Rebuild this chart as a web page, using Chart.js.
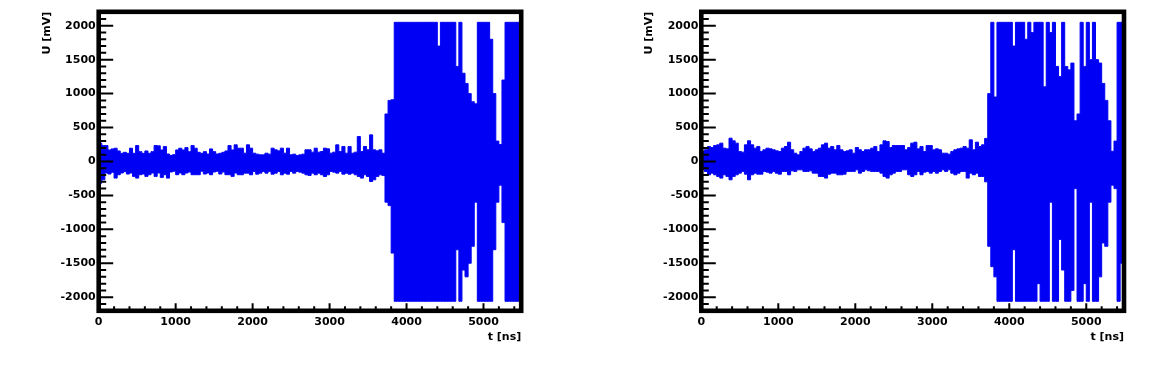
<!DOCTYPE html>
<html>
<head>
<meta charset="utf-8">
<script src="https://cdn.jsdelivr.net/npm/chart.js@4/dist/chart.umd.min.js"></script>
<style>
  html, body { margin: 0; padding: 0; background: #fff; }
  #wrap { position: relative; width: 1153px; height: 385px; }
  canvas { position: absolute; top: 0; }
</style>
</head>
<body>
<div id="wrap">
  <canvas id="left" width="576" height="385" style="left:0"></canvas>
  <canvas id="right" width="577" height="385" style="left:576px"></canvas>
</div>
<script>
// Waveforms: per 40 ns bin, highest and lowest sample (mV)
const binWidth = 40;   // ns
const xTicks = [0, 1000, 2000, 3000, 4000, 5000];
const yTicks = [-2000, -1500, -1000, -500, 0, 500, 1000, 1500, 2000];
const xTitle = 't [ns]';
const yTitle = 'U [mV]';

const leftHi = [
  270,235,235,170,185,195,155,120,135,120, 195,120,235,145,120,155,120,145,235,230,
  170,220,110,90,100,170,195,170,205,145, 235,195,135,120,145,110,185,145,110,120,
  135,155,235,170,245,195,196,122,245,196, 122,108,98,98,122,108,196,172,157,196,
  122,196,98,108,88,98,108,172,172,137, 196,137,147,196,186,122,137,245,147,221,
  122,221,122,137,368,147,221,172,392,172, 157,172,122,700,900,910,2050,2050,2050,2050,
  2050,2050,2050,2050,2050,2050,2050,2050,2050,2050, 1700,2050,2050,2050,2050,2050,1400,2050,1300,1150,
  1000,880,850,2050,2050,2050,2050,1800,1000,300, 250,1200,2050,2050,2050,2050,2050,2050
];
const leftLo = [
  -320,-270,-170,-185,-160,-245,-195,-170,-150,-185, -170,-220,-245,-195,-185,-220,-195,-170,-220,-170,
  -235,-195,-245,-155,-145,-195,-170,-195,-170,-155, -195,-195,-195,-145,-185,-170,-195,-155,-145,-185,
  -155,-195,-195,-220,-170,-195,-196,-172,-172,-196, -147,-187,-172,-147,-172,-147,-187,-172,-147,-196,
  -172,-187,-147,-172,-147,-157,-172,-196,-206,-172, -196,-172,-196,-221,-196,-147,-157,-172,-147,-187,
  -172,-187,-172,-196,-221,-245,-196,-221,-295,-270, -221,-196,-206,-600,-650,-1350,-2060,-2060,-2060,-2060,
  -2060,-2060,-2060,-2060,-2060,-2060,-2060,-2060,-2060,-2060, -2060,-2060,-2060,-2060,-2060,-2060,-1300,-2060,-1600,-1700,
  -1500,-1250,-600,-2060,-2060,-2060,-2060,-2060,-1300,-600, -350,-900,-2060,-2060,-2060,-2060,-2060,-2060
];
const rightHi = [
  150,172,221,206,235,245,270,196,186,343, 304,270,147,137,245,304,245,196,221,147,
  172,196,186,172,157,147,196,221,284,172, 122,98,147,196,221,186,147,172,196,245,
  270,196,221,172,235,172,147,157,172,122, 206,172,147,172,172,196,221,147,245,304,
  294,206,235,235,235,235,172,206,270,284, 186,221,147,235,235,172,186,172,122,122,
  108,147,172,186,196,221,196,319,172,284, 221,245,340,1000,2050,950,2050,2050,2050,2050,
  2050,1700,2050,2050,2050,1800,2050,1900,2050,2050, 2050,1100,2050,1900,2050,1400,1250,2050,1400,1350,
  1450,600,700,2050,1400,2050,1500,2050,1500,1450, 1150,900,600,150,300,2050,2050,2050
];
const rightLo = [
  -120,-147,-196,-172,-196,-221,-245,-196,-221,-270, -221,-196,-172,-147,-187,-270,-196,-172,-187,-187,
  -147,-157,-172,-147,-172,-187,-147,-147,-196,-138, -147,-123,-123,-147,-147,-138,-172,-172,-221,-221,
  -245,-187,-172,-172,-196,-196,-187,-147,-147,-147, -123,-172,-147,-123,-138,-147,-147,-147,-172,-221,
  -245,-196,-172,-147,-147,-123,-123,-196,-221,-196, -147,-196,-157,-147,-172,-147,-172,-147,-123,-147,
  -123,-172,-196,-172,-147,-147,-245,-172,-196,-172, -221,-221,-300,-1250,-1550,-1700,-2060,-2060,-2060,-2060,
  -2060,-1300,-2060,-2060,-2060,-2060,-2060,-2060,-2060,-1800, -2060,-2060,-2060,-600,-2060,-2060,-1150,-1600,-2060,-2060,
  -1900,-400,-2060,-2060,-1800,-2060,-600,-2060,-2060,-1700, -1200,-1250,-600,-350,-400,-2060,-1500,-2060
];

const FONT = 'DejaVu Sans';
const BLUE = '#0000f5';

// ROOT-like frame: thick box, ticks inside, axis titles at the ends
const rootFrame = {
  id: 'rootFrame',
  afterDraw(chart) {
    const {ctx, chartArea: a, scales: {x, y}} = chart;
    ctx.save();
    ctx.strokeStyle = '#000';
    ctx.lineWidth = 2;
    ctx.beginPath();
    for (let t = 0; t <= x.max; t += 200) {
      const px = x.getPixelForValue(t);
      const len = t % 1000 === 0 ? 7.5 : 4.5;
      ctx.moveTo(px, a.bottom);
      ctx.lineTo(px, a.bottom - len);
    }
    for (let v = -2200; v <= y.max; v += 100) {
      const py = y.getPixelForValue(v);
      const len = v % 500 === 0 ? 14.5 : 7.5;
      ctx.moveTo(a.left, py);
      ctx.lineTo(a.left + len, py);
    }
    ctx.stroke();
    ctx.lineWidth = 4.6;
    ctx.strokeRect(a.left, a.top, a.right - a.left, a.bottom - a.top);

    ctx.fillStyle = '#000';
    ctx.font = 'bold 11px "' + FONT + '"';
    ctx.textAlign = 'right';
    ctx.textBaseline = 'middle';
    ctx.fillText(xTitle, a.right, 337.5);
    ctx.translate(a.left - 52, a.top);
    ctx.rotate(-Math.PI / 2);
    ctx.fillText(yTitle, 0, 0);
    ctx.restore();
  }
};

function makeChart(id, hi, lo, axisWidth, padRight) {
  const centre = i => i * binWidth + binWidth / 2;
  return new Chart(document.getElementById(id), {
    type: 'line',
    data: {
      datasets: [
        {
          data: hi.map((v, i) => ({x: centre(i), y: v})),
          borderColor: BLUE,
          backgroundColor: BLUE,
          borderWidth: 1,
          pointRadius: 0,
          stepped: 'middle',
          fill: '+1'
        },
        {
          data: lo.map((v, i) => ({x: centre(i), y: v})),
          borderColor: BLUE,
          borderWidth: 1,
          pointRadius: 0,
          stepped: 'middle',
          fill: false
        }
      ]
    },
    options: {
      responsive: false,
      devicePixelRatio: 1,
      animation: false,
      layout: { padding: { top: 11.8, right: padRight, left: 0, bottom: 0 } },
      plugins: { legend: { display: false }, tooltip: { enabled: false } },
      scales: {
        x: {
          type: 'linear',
          min: 0,
          max: 5490,
          grid: { display: false, drawTicks: false },
          border: { display: false },
          afterBuildTicks: s => { s.ticks = xTicks.map(v => ({value: v})); },
          afterFit: s => { s.height = 74.2; },
          ticks: {
            color: '#000',
            padding: 5,
            autoSkip: false,
            maxRotation: 0,
            callback: v => String(v),
            font: { family: FONT, size: 11, weight: 'bold' }
          }
        },
        y: {
          min: -2200,
          max: 2205,
          grid: { display: false, drawTicks: false },
          border: { display: false },
          afterBuildTicks: s => { s.ticks = yTicks.map(v => ({value: v})); },
          afterFit: s => { s.width = axisWidth; },
          ticks: {
            color: '#000',
            padding: 3,
            autoSkip: false,
            callback: v => String(v),
            font: { family: FONT, size: 11, weight: 'bold' }
          }
        }
      }
    },
    plugins: [rootFrame]
  });
}

makeChart('left', leftHi, leftLo, 98.7, 54.8);
makeChart('right', rightHi, rightLo, 125.3, 29);
</script>
</body>
</html>
